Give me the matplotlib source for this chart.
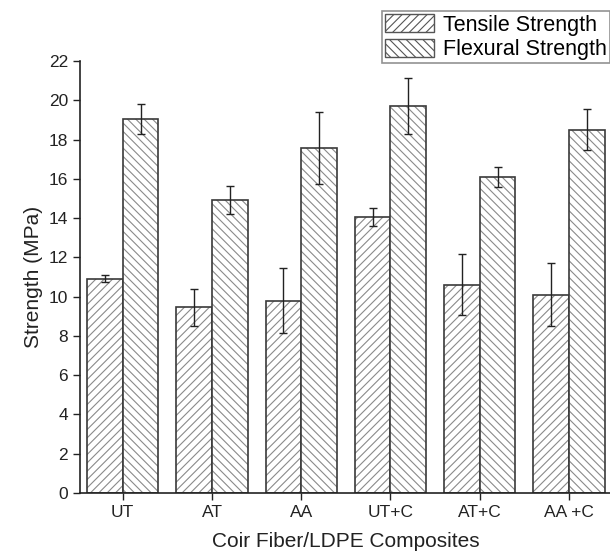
import numpy as np
import matplotlib.pyplot as plt
from matplotlib.patches import Patch

plt.rcParams['font.family'] = ['Liberation Sans', 'DejaVu Sans']
plt.rcParams['hatch.linewidth'] = 0.8

categories = ["UT", "AT", "AA", "UT+C", "AT+C", "AA +C"]
tensile = [10.9, 9.45, 9.8, 14.05, 10.6, 10.1]
tensile_err = [0.18, 0.95, 1.65, 0.45, 1.55, 1.6]
flexural = [19.05, 14.92, 17.55, 19.7, 16.1, 18.5]
flexural_err = [0.75, 0.72, 1.83, 1.42, 0.5, 1.05]

fig = plt.figure(figsize=(6.1, 5.54), dpi=100)
ax = fig.add_axes([0.131, 0.110, 0.872, 0.780])

x = np.arange(len(categories))
w = 0.4
hatch_col = "#8a8a8a"
edge_col = "#3a3a3a"

for xs, vals, hatch in [(x - w / 2, tensile, "////"), (x + w / 2, flexural, "\\\\\\\\")]:
    ax.bar(xs, vals, w, color="white", edgecolor=hatch_col, hatch=hatch, linewidth=0)
    ax.bar(xs, vals, w, fill=False, edgecolor=edge_col, linewidth=1.2)

ax.errorbar(x - w / 2, tensile, yerr=tensile_err, fmt="none", ecolor="#222222",
            elinewidth=1, capsize=3, capthick=1)
ax.errorbar(x + w / 2, flexural, yerr=flexural_err, fmt="none", ecolor="#222222",
            elinewidth=1, capsize=3, capthick=1)

ax.set_xlim(-0.48, 5.48)
ax.set_ylim(0, 22)
ax.set_yticks(range(0, 23, 2))
ax.set_xticks(x)
ax.set_xticklabels(categories)
ax.tick_params(direction="out", length=5, width=1, labelsize=12.5, colors="#222222")
ax.spines["top"].set_visible(False)
ax.spines["right"].set_visible(False)
for s in ["left", "bottom"]:
    ax.spines[s].set_linewidth(1.2)
    ax.spines[s].set_color("#222222")

ax.set_ylabel("Strength (MPa)", fontsize=15, color="#222222", labelpad=4)
ax.set_xlabel("Coir Fiber/LDPE Composites", fontsize=15, color="#222222", labelpad=9)

handles = [Patch(facecolor="white", edgecolor="#555555", hatch="////", label="Tensile Strength"),
           Patch(facecolor="white", edgecolor="#555555", hatch="\\\\\\\\", label="Flexural Strength")]
leg = fig.legend(handles=handles, loc="upper left", bbox_to_anchor=(382 / 610, 1 - 11 / 554),
                 fontsize=15.5, frameon=True, fancybox=False, edgecolor="#777777",
                 handlelength=2.25, handleheight=0.9, handletextpad=0.45,
                 borderpad=0.15, labelspacing=0.15, borderaxespad=0)
leg.get_frame().set_linewidth(1.2)

fig.savefig("out.png", dpi=100)
